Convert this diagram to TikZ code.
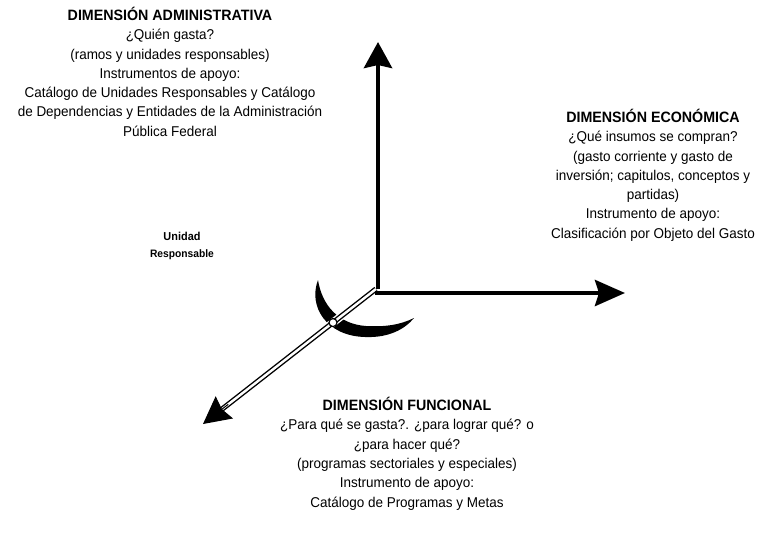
\documentclass[tikz,border=0pt]{standalone}
\usepackage{fontspec}
\setmainfont{Liberation Sans}[FakeStretch=0.95]
\usetikzlibrary{arrows.meta,calc}
\begin{document}
\begin{tikzpicture}[x=1pt,y=-1pt,
  txt/.style={align=center, inner sep=0pt, anchor=north, font=\fontsize{14.2}{19.3}\selectfont},
  axisline/.style={line width=4.5pt},
  headup/.style={-{Stealth[length=26pt,width=28pt,inset=3pt]}},
  headrt/.style={-{Stealth[length=30pt,width=26pt,inset=4pt]}},
  headdl/.style={-{Stealth[length=27pt,width=28pt,inset=3pt]}},
  dblline/.style={double=white, line width=1.4pt, double distance=2.4pt}
]
\useasboundingbox (0,0) rectangle (763,533);

% coordinates
\coordinate (O) at (376,289);
\coordinate (Vb) at (378,289);
\coordinate (up) at (378,42);
\coordinate (Rb) at (375,293);
\coordinate (rt) at (625,293);
\coordinate (dl) at (203,424);
\coordinate (hb) at ($(dl)!24pt!(O)$);
\coordinate (X) at ($(O)!0.2486!(dl)$);
\coordinate (g1) at ($(O)!0.16!(dl)$);
\coordinate (g2) at ($(O)!0.34!(dl)$);

% crescent
\fill (318,280) .. controls (308,306) and (326,336) .. (365,337)
  .. controls (389,338) and (405,329) .. (414,318)
  .. controls (400,325) and (385,327) .. (366,326)
  .. controls (338,324) and (322,305) .. (318,280) -- cycle;

% diagonal axis
\draw[white, line width=8pt] (g1) -- (g2);
\draw[dblline] (O) -- (hb);
\draw[line width=1pt, headdl] ($(dl)!32pt!(O)$) -- (dl);
\draw[line width=1.2pt, fill=white] (X) circle (4pt);

% vertical and horizontal axes
\draw[axisline, headup] (Vb) -- (up);
\draw[axisline, headrt] (Rb) -- (rt);

% texts
\node[txt] (adm) at (170,7) {{\bfseries\fontsize{15}{19.3}\selectfont DIMENSIÓN ADMINISTRATIVA}\\
¿Quién gasta?\\
(ramos y unidades responsables)\\
Instrumentos de apoyo:\\
Catálogo de Unidades Responsables y Catálogo\\
de Dependencias y Entidades de la Administración\\
Pública Federal};

\node[txt] (eco) at (653,109) {{\bfseries\fontsize{15}{19.3}\selectfont DIMENSIÓN ECONÓMICA}\\
¿Qué insumos se compran?\\
(gasto corriente y gasto de\\
inversión; capitulos, conceptos y\\
partidas)\\
Instrumento de apoyo:\\
Clasificación por Objeto del Gasto};

\node[txt] (fun) at (407,397) {{\bfseries\fontsize{15}{19.3}\selectfont DIMENSIÓN FUNCIONAL}\\
¿Para qué se gasta?. ¿para lograr qué? o\\
¿para hacer qué?\\
(programas sectoriales y especiales)\\
Instrumento de apoyo:\\
Catálogo de Programas y Metas};

\node[align=center, inner sep=0pt, font=\bfseries\fontsize{11.5}{17}\selectfont] (ur) at (182,246)
  {Unidad\\{\fontsize{10.8}{17}\selectfont Responsable}};
\end{tikzpicture}
\end{document}
